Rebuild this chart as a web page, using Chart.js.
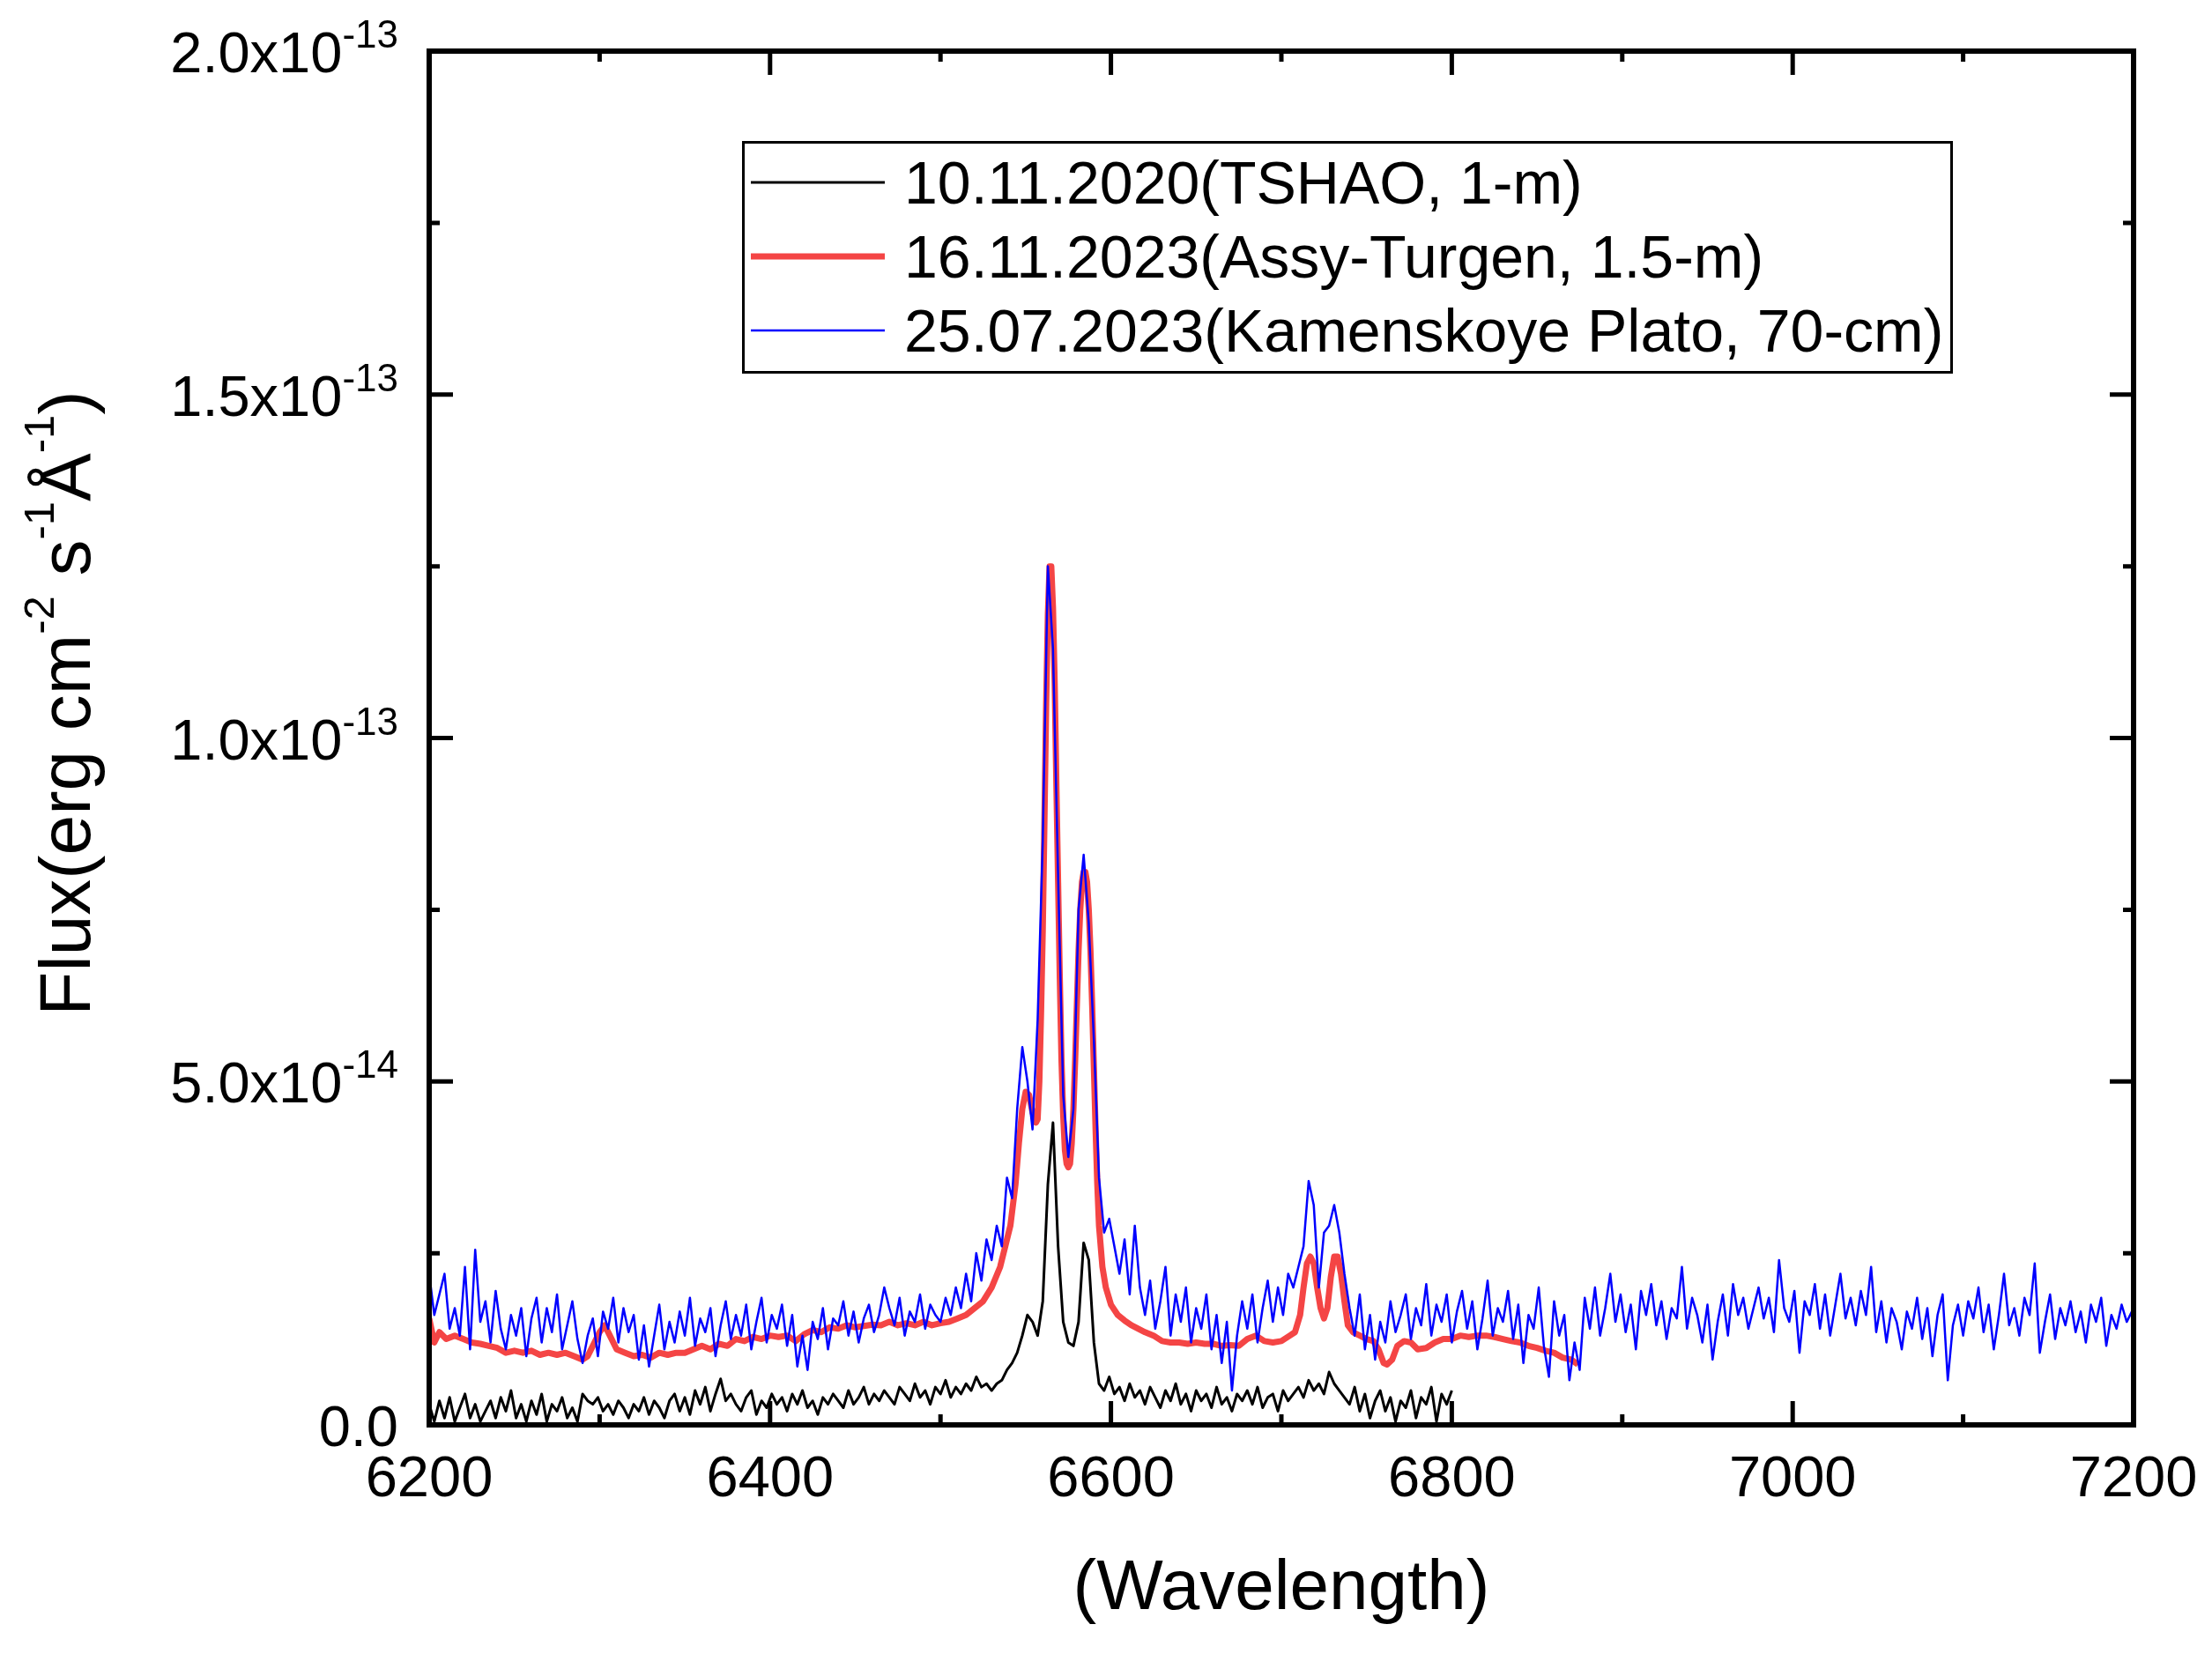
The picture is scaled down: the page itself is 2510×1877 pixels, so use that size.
<!DOCTYPE html>
<html>
<head>
<meta charset="utf-8">
<title>Spectra</title>
<script src="https://cdn.jsdelivr.net/npm/chart.js@4.4.1/dist/chart.umd.min.js"></script>
<style>
  html, body { margin: 0; padding: 0; background: #fff; }
  canvas { display: block; background: #fff; }
</style>
</head>
<body>
<canvas id="spectra" width="2510" height="1877"></canvas>
<script>
// flux values are in units of 1e-14 erg cm-2 s-1 A-1

// common wavelength grid (A) of the 1-m and 70-cm spectra
const waveGrid = [
  6200,6203,6206,6209,6212,6215,6218,6221,6224,6227,
  6230,6233,6236,6239,6242,6245,6248,6251,6254,6257,
  6260,6263,6266,6269,6272,6275,6278,6281,6284,6287,
  6290,6293,6296,6299,6302,6305,6308,6311,6314,6317,
  6320,6323,6326,6329,6332,6335,6338,6341,6344,6347,
  6350,6353,6356,6359,6362,6365,6368,6371,6374,6377,
  6380,6383,6386,6389,6392,6395,6398,6401,6404,6407,
  6410,6413,6416,6419,6422,6425,6428,6431,6434,6437,
  6440,6443,6446,6449,6452,6455,6458,6461,6464,6467,
  6470,6473,6476,6479,6482,6485,6488,6491,6494,6497,
  6500,6503,6506,6509,6512,6515,6518,6521,6524,6527,
  6530,6533,6536,6539,6542,6545,6548,6551,6554,6557,
  6560,6563,6566,6569,6572,6575,6578,6581,6584,6587,
  6590,6593,6596,6599,6602,6605,6608,6611,6614,6617,
  6620,6623,6626,6629,6632,6635,6638,6641,6644,6647,
  6650,6653,6656,6659,6662,6665,6668,6671,6674,6677,
  6680,6683,6686,6689,6692,6695,6698,6701,6704,6707,
  6710,6713,6716,6719,6722,6725,6728,6731,6734,6737,
  6740,6743,6746,6749,6752,6755,6758,6761,6764,6767,
  6770,6773,6776,6779,6782,6785,6788,6791,6794,6797,
  6800,6803,6806,6809,6812,6815,6818,6821,6824,6827,
  6830,6833,6836,6839,6842,6845,6848,6851,6854,6857,
  6860,6863,6866,6869,6872,6875,6878,6881,6884,6887,
  6890,6893,6896,6899,6902,6905,6908,6911,6914,6917,
  6920,6923,6926,6929,6932,6935,6938,6941,6944,6947,
  6950,6953,6956,6959,6962,6965,6968,6971,6974,6977,
  6980,6983,6986,6989,6992,6995,6998,7001,7004,7007,
  7010,7013,7016,7019,7022,7025,7028,7031,7034,7037,
  7040,7043,7046,7049,7052,7055,7058,7061,7064,7067,
  7070,7073,7076,7079,7082,7085,7088,7091,7094,7097,
  7100,7103,7106,7109,7112,7115,7118,7121,7124,7127,
  7130,7133,7136,7139,7142,7145,7148,7151,7154,7157,
  7160,7163,7166,7169,7172,7175,7178,7181,7184,7187,
  7190,7193,7196,7199
];

// 10.11.2020 TSHAO 1-m (first 201 grid points, 6200-6800)
const fluxTshao = [
  0.3,0.05,0.35,0.1,0.4,0.05,0.25,0.45,0.1,0.3,
  0.05,0.2,0.35,0.1,0.4,0.2,0.5,0.1,0.3,0.05,
  0.35,0.15,0.45,0.05,0.3,0.2,0.4,0.1,0.25,0.05,
  0.45,0.35,0.3,0.4,0.2,0.3,0.15,0.35,0.25,0.1,
  0.3,0.2,0.4,0.15,0.35,0.25,0.1,0.35,0.45,0.2,
  0.4,0.15,0.5,0.3,0.55,0.2,0.45,0.67,0.35,0.45,
  0.3,0.2,0.4,0.5,0.15,0.35,0.25,0.45,0.3,0.4,
  0.2,0.45,0.3,0.5,0.25,0.35,0.15,0.4,0.3,0.45,
  0.35,0.25,0.5,0.3,0.4,0.55,0.3,0.45,0.35,0.5,
  0.4,0.3,0.55,0.45,0.35,0.6,0.4,0.5,0.3,0.55,
  0.45,0.65,0.4,0.55,0.45,0.6,0.5,0.7,0.55,0.6,
  0.5,0.6,0.65,0.8,0.9,1.05,1.3,1.6,1.5,1.3,
  1.8,3.5,4.4,2.6,1.5,1.2,1.15,1.5,2.65,2.4,
  1.2,0.6,0.5,0.7,0.45,0.55,0.35,0.6,0.4,0.5,
  0.3,0.55,0.4,0.25,0.5,0.35,0.6,0.3,0.45,0.2,
  0.5,0.35,0.45,0.25,0.55,0.3,0.4,0.2,0.45,0.35,
  0.5,0.3,0.55,0.25,0.4,0.45,0.2,0.5,0.35,0.45,
  0.55,0.4,0.65,0.5,0.6,0.45,0.77,0.6,0.5,0.4,
  0.3,0.55,0.2,0.45,0.1,0.35,0.5,0.2,0.4,0.05,
  0.35,0.25,0.5,0.1,0.4,0.3,0.55,0.05,0.45,0.3,
  0.5
];

// 25.07.2023 Kamenskoye Plato 70-cm (whole grid)
const fluxKamen = [
  2.2,1.6,1.9,2.2,1.4,1.7,1.3,2.3,1.1,2.55,
  1.5,1.8,1.2,1.95,1.4,1.1,1.6,1.3,1.7,1.0,
  1.55,1.85,1.2,1.7,1.35,1.9,1.1,1.45,1.8,1.25,
  0.9,1.3,1.55,1.0,1.65,1.4,1.85,1.2,1.7,1.35,
  1.6,0.95,1.45,0.85,1.3,1.75,1.1,1.5,1.2,1.65,
  1.3,1.85,1.15,1.55,1.35,1.7,1.0,1.45,1.8,1.25,
  1.6,1.3,1.75,1.1,1.5,1.85,1.2,1.6,1.4,1.75,
  1.15,1.6,0.85,1.3,0.8,1.5,1.25,1.7,1.1,1.55,
  1.45,1.8,1.3,1.65,1.2,1.55,1.75,1.35,1.6,2.0,
  1.7,1.45,1.85,1.3,1.65,1.5,1.9,1.4,1.75,1.6,
  1.5,1.85,1.6,2.0,1.7,2.2,1.8,2.5,2.1,2.7,
  2.4,2.9,2.6,3.6,3.3,4.6,5.5,5.0,4.3,5.9,
  8.5,12.5,11.3,8.0,4.8,3.9,4.6,7.5,8.3,7.3,
  5.6,3.6,2.8,3.0,2.6,2.2,2.7,1.9,2.9,2.0,
  1.6,2.1,1.4,1.8,2.3,1.3,1.9,1.5,2.0,1.2,
  1.7,1.4,1.9,1.1,1.6,0.9,1.5,0.5,1.3,1.8,
  1.4,1.9,1.2,1.7,2.1,1.5,2.0,1.6,2.2,2.0,
  2.3,2.6,3.55,3.2,2.0,2.8,2.9,3.2,2.8,2.2,
  1.7,1.3,1.9,1.1,1.6,0.95,1.5,1.2,1.8,1.35,
  1.6,1.9,1.25,1.7,1.45,2.05,1.3,1.75,1.5,1.9,
  1.2,1.65,1.95,1.4,1.8,1.1,1.55,2.1,1.3,1.7,
  1.5,1.95,1.25,1.75,0.9,1.6,1.4,2.0,1.15,0.7,
  1.8,1.3,1.6,0.65,1.2,0.8,1.85,1.4,2.0,1.3,
  1.7,2.2,1.5,1.9,1.35,1.75,1.1,1.95,1.6,2.05,
  1.45,1.8,1.25,1.7,1.55,2.3,1.4,1.85,1.6,1.2,
  1.75,0.95,1.5,1.9,1.3,2.05,1.6,1.85,1.4,1.7,
  2.0,1.55,1.85,1.35,2.4,1.7,1.5,1.95,1.05,1.8,
  1.6,2.05,1.4,1.9,1.3,1.75,2.2,1.55,1.85,1.45,
  1.95,1.6,2.3,1.35,1.8,1.2,1.7,1.5,1.1,1.65,
  1.4,1.85,1.25,1.7,1.0,1.6,1.9,0.65,1.45,1.75,
  1.3,1.8,1.55,2.0,1.35,1.75,1.1,1.6,2.2,1.45,
  1.7,1.3,1.85,1.6,2.35,1.05,1.5,1.9,1.25,1.7,
  1.45,1.8,1.35,1.65,1.2,1.75,1.5,1.85,1.15,1.6,
  1.4,1.75,1.5,1.65
];

// 16.11.2023 Assy-Turgen 1.5-m
const waveAssy = [
  6200,6203,6206,6210,6215,6220,6225,6230,6235,6240,
  6245,6250,6255,6260,6265,6270,6275,6280,6285,6290,
  6293,6296,6300,6303,6306,6310,6315,6320,6325,6330,
  6335,6340,6345,6350,6355,6360,6365,6370,6375,6380,
  6385,6390,6395,6400,6405,6410,6415,6420,6425,6430,
  6435,6440,6445,6450,6455,6460,6465,6470,6475,6480,
  6485,6490,6495,6500,6505,6510,6515,6520,6525,6530,
  6535,6538,6541,6544,6546,6548,6550,6552,6554,6556,
  6557,6558,6559,6560,6561,6562,6563,6564,6565,6566,
  6567,6568,6569,6570,6571,6572,6573,6574,6575,6576,
  6577,6578,6579,6580,6581,6582,6583,6584,6585,6586,
  6587,6588,6589,6590,6591,6592,6593,6595,6597,6600,
  6604,6608,6612,6616,6620,6625,6630,6635,6640,6645,
  6650,6655,6660,6665,6670,6675,6680,6685,6690,6695,
  6700,6705,6708,6711,6713,6715,6717,6719,6721,6723,
  6725,6727,6729,6731,6733,6735,6737,6739,6742,6746,
  6750,6754,6757,6760,6762,6765,6768,6772,6776,6780,
  6785,6790,6795,6800,6805,6810,6815,6820,6825,6830,
  6835,6840,6845,6850,6855,6860,6865,6870,6874
];
const fluxAssy = [
  1.55,1.2,1.35,1.25,1.3,1.25,1.2,1.18,1.15,1.12,
  1.05,1.08,1.05,1.08,1.02,1.05,1.02,1.05,1.0,0.95,
  1.0,1.15,1.35,1.45,1.3,1.1,1.05,1.0,1.02,0.98,
  1.05,1.02,1.05,1.05,1.1,1.15,1.1,1.18,1.15,1.25,
  1.22,1.28,1.25,1.3,1.28,1.3,1.22,1.32,1.38,1.35,
  1.42,1.4,1.45,1.42,1.44,1.46,1.45,1.5,1.45,1.48,
  1.45,1.5,1.45,1.48,1.5,1.55,1.6,1.7,1.8,2.0,
  2.3,2.6,2.9,3.5,4.1,4.6,4.85,4.8,4.55,4.4,
  4.45,5.0,6.0,7.2,8.8,10.5,11.8,12.5,12.5,11.9,
  10.8,9.3,7.9,6.5,5.3,4.5,4.0,3.8,3.75,3.8,
  4.1,4.6,5.3,6.1,6.9,7.5,7.9,8.05,8.05,7.9,
  7.5,6.9,6.1,5.2,4.3,3.5,2.9,2.3,2.0,1.75,
  1.6,1.52,1.45,1.4,1.35,1.3,1.22,1.2,1.2,1.18,
  1.2,1.18,1.18,1.15,1.16,1.15,1.25,1.3,1.22,1.2,
  1.22,1.3,1.35,1.6,2.0,2.35,2.45,2.35,2.0,1.7,
  1.55,1.7,2.15,2.45,2.45,2.2,1.8,1.45,1.35,1.3,
  1.25,1.22,1.1,0.9,0.88,0.95,1.15,1.22,1.2,1.1,
  1.12,1.2,1.25,1.25,1.3,1.28,1.3,1.3,1.28,1.25,
  1.22,1.2,1.15,1.12,1.08,1.05,0.98,0.95,0.88
];

const legendLabels = [
  '10.11.2020(TSHAO, 1-m)',
  '16.11.2023(Assy-Turgen, 1.5-m)',
  '25.07.2023(Kamenskoye Plato, 70-cm)'
];
const seriesColors = ['#000000', '#F44545', '#0000FF'];
const seriesWidths = [3, 7, 2.5];

const xTickValues = [6200, 6400, 6600, 6800, 7000, 7200];
const xMinorTicks = [6300, 6500, 6700, 6900, 7100];
const yTickValues = [0, 5, 10, 15, 20];
const yMinorTicks = [2.5, 7.5, 12.5, 17.5];
const yTickMantissa = ['0.0', '5.0x10', '1.0x10', '1.5x10', '2.0x10'];
const yTickExponent = ['', '-14', '-13', '-13', '-13'];

const FONT = "'Liberation Sans', Arial, Helvetica, sans-serif";
Chart.defaults.font.family = FONT;
Chart.defaults.color = '#000';

function toPoints(xs, ys) {
  return ys.map((y, i) => ({ x: xs[i], y: y }));
}

// text runs with superscripts, e.g. [{t:'cm'}, {t:'-2', sup:true}]
function runWidth(ctx, parts, size, supScale) {
  let w = 0;
  for (const p of parts) {
    ctx.font = Math.round(p.sup ? size * supScale : size) + 'px ' + FONT;
    w += ctx.measureText(p.t).width;
  }
  return w;
}
function drawRun(ctx, parts, x, y, size, supScale, raise) {
  for (const p of parts) {
    ctx.font = Math.round(p.sup ? size * supScale : size) + 'px ' + FONT;
    ctx.fillText(p.t, x, p.sup ? y - size * raise : y);
    x += ctx.measureText(p.t).width;
  }
}

const framePlugin = {
  id: 'frame',
  afterDraw(chart) {
    const ctx = chart.ctx;
    const area = chart.chartArea;
    const xs = chart.scales.x;
    const ys = chart.scales.y;
    ctx.save();
    ctx.strokeStyle = '#000';
    ctx.fillStyle = '#000';

    // ticks, pointing inward on all four sides
    ctx.lineWidth = 5;
    ctx.beginPath();
    const xt = xTickValues.map(v => [v, 27]).concat(xMinorTicks.map(v => [v, 12]));
    xt.forEach(([v, len]) => {
      const px = xs.getPixelForValue(v);
      ctx.moveTo(px, area.bottom); ctx.lineTo(px, area.bottom - len);
      ctx.moveTo(px, area.top); ctx.lineTo(px, area.top + len);
    });
    const yt = yTickValues.map(v => [v, 27]).concat(yMinorTicks.map(v => [v, 12]));
    yt.forEach(([v, len]) => {
      const py = ys.getPixelForValue(v);
      ctx.moveTo(area.left, py); ctx.lineTo(area.left + len, py);
      ctx.moveTo(area.right, py); ctx.lineTo(area.right - len, py);
    });
    ctx.stroke();

    ctx.lineWidth = 6;
    ctx.strokeRect(area.left, area.top, area.right - area.left, area.bottom - area.top);

    // y tick labels, a x 10^n
    ctx.textAlign = 'left';
    ctx.textBaseline = 'alphabetic';
    yTickValues.forEach((v, i) => {
      const py = ys.getPixelForValue(v);
      const parts = [{ t: yTickMantissa[i] }];
      if (yTickExponent[i]) parts.push({ t: yTickExponent[i], sup: true });
      const w = runWidth(ctx, parts, 65, 0.67);
      drawRun(ctx, parts, area.left - 35 - w, py + 24, 65, 0.67, 0.43);
    });

    // y axis title
    const title = [
      { t: 'Flux(erg cm' }, { t: '-2', sup: true }, { t: ' s' }, { t: '-1', sup: true },
      { t: 'Å' }, { t: '-1', sup: true }, { t: ')' }
    ];
    ctx.save();
    ctx.translate(102, 798);
    ctx.rotate(-Math.PI / 2);
    const tw = runWidth(ctx, title, 82, 0.6);
    drawRun(ctx, title, -tw / 2, 0, 82, 0.6, 0.5);
    ctx.restore();

    // x axis title
    ctx.font = '80px ' + FONT;
    ctx.textAlign = 'center';
    ctx.fillText('(Wavelength)', (area.left + area.right) / 2, 1826);

    // legend box
    ctx.lineWidth = 3;
    ctx.strokeRect(843.5, 161.5, 1371, 261);
    ctx.textAlign = 'left';
    ctx.font = '68px ' + FONT;
    legendLabels.forEach((label, i) => {
      const cy = 207 + i * 84;
      ctx.strokeStyle = seriesColors[i];
      ctx.lineWidth = seriesWidths[i];
      ctx.beginPath();
      ctx.moveTo(852, cy); ctx.lineTo(1004, cy);
      ctx.stroke();
      ctx.fillText(label, 1026, cy + 24);
    });
    ctx.restore();
  }
};

new Chart(document.getElementById('spectra'), {
  type: 'line',
  data: {
    datasets: [
      { label: legendLabels[0], data: toPoints(waveGrid, fluxTshao), borderColor: seriesColors[0], borderWidth: seriesWidths[0], order: 2 },
      { label: legendLabels[1], data: toPoints(waveAssy, fluxAssy), borderColor: seriesColors[1], borderWidth: seriesWidths[1], order: 1 },
      { label: legendLabels[2], data: toPoints(waveGrid, fluxKamen), borderColor: seriesColors[2], borderWidth: seriesWidths[2], order: 0 }
    ]
  },
  options: {
    responsive: false,
    animation: false,
    devicePixelRatio: 1,
    elements: {
      point: { radius: 0 },
      line: { tension: 0, fill: false, borderJoinStyle: 'round' }
    },
    layout: { padding: { left: 0, top: 58, right: 89, bottom: 0 } },
    plugins: { legend: { display: false }, tooltip: { enabled: false } },
    scales: {
      x: {
        type: 'linear', min: 6200, max: 7200,
        afterFit: s => { s.height = 260; s.paddingLeft = 0; s.paddingRight = 0; },
        grid: { display: false, drawTicks: false },
        border: { display: false },
        ticks: {
          stepSize: 200, autoSkip: false, maxRotation: 0, padding: 24, color: '#000',
          font: { size: 65 },
          callback: v => String(v)
        }
      },
      y: {
        type: 'linear', min: 0, max: 20,
        afterFit: s => { s.width = 487; },
        grid: { display: false, drawTicks: false },
        border: { display: false },
        ticks: { display: false, stepSize: 5 }
      }
    }
  },
  plugins: [framePlugin]
});
</script>
</body>
</html>
